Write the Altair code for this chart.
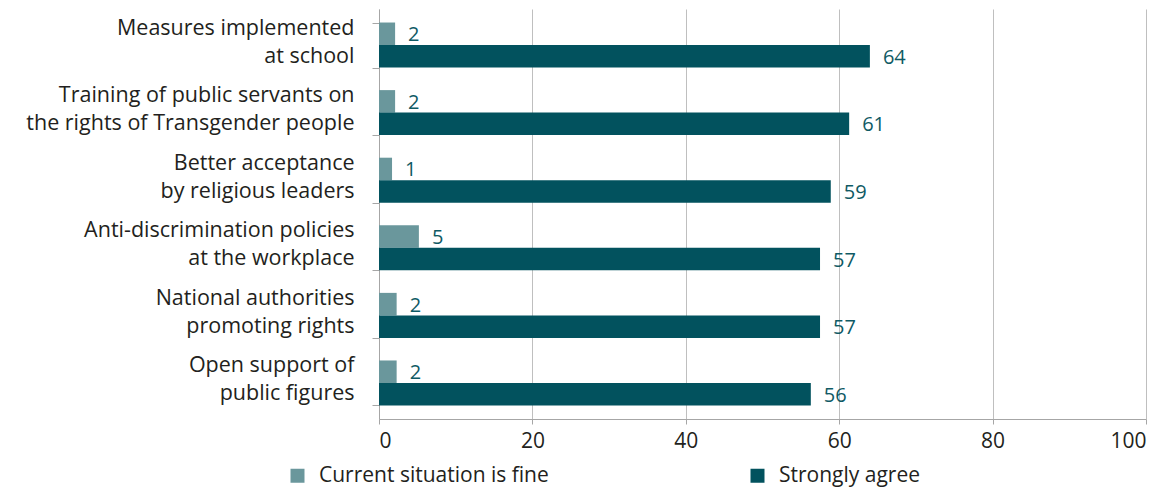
import altair as alt
import pandas as pd

categories = [
    "Measures implemented|at school",
    "Training of public servants on |the rights of Transgender people",
    "Better acceptance|by religious leaders",
    "Anti-discrimination policies|at the workplace",
    "National authorities|promoting rights",
    "Open support of|public figures",
]
series = ["Current situation is fine", "Strongly agree"]
current_fine = [2.1, 2.1, 1.7, 5.2, 2.3, 2.3]
strongly_agree = [64.0, 61.3, 58.9, 57.5, 57.5, 56.3]
current_labels = ["2", "2", "1", "5", "2", "2"]
strongly_labels = ["64", "61", "59", "57", "57", "56"]
x_ticks = [0, 20, 40, 60, 80, 100]

rows = []
for i, c in enumerate(categories):
    rows.append({"cat": c, "series": series[0], "value": current_fine[i], "label": current_labels[i]})
    rows.append({"cat": c, "series": series[1], "value": strongly_agree[i], "label": strongly_labels[i]})
df = pd.DataFrame(rows)

FONT = "Open Sans"
LIGHT = "#6a979c"
DARK = "#02525e"

y_enc = alt.Y("cat:N", sort=categories, title=None,
              scale=alt.Scale(paddingInner=0.334, paddingOuter=0.2),
              axis=alt.Axis(labelExpr="split(datum.label, '|')", labelFontSize=21.5,
                            labelLineHeight=28, labelColor="#231f20", labelFont=FONT,
                            labelPadding=18, labelOffset=-17, tickBand="extent", tickSize=7,
                            tickColor="#a6a6a6", domainColor="#a6a6a6", labelLimit=400))
x_enc = alt.X("value:Q", title=None, scale=alt.Scale(domain=[0, 100], nice=False),
              axis=alt.Axis(values=x_ticks, labelFontSize=21, labelColor="#231f20", labelFont=FONT,
                            grid=True, gridColor="#bfbfbf", domainColor="#a6a6a6",
                            tickColor="#a6a6a6", tickSize=5, labelPadding=6))
yoff = alt.YOffset("series:N", sort=series, scale=alt.Scale(domain=series))

bars = alt.Chart(df).mark_bar().encode(
    y=y_enc, x=x_enc, yOffset=yoff,
    color=alt.Color("series:N", scale=alt.Scale(domain=series, range=[LIGHT, DARK]),
                    legend=alt.Legend(title=None, orient="none", direction="horizontal",
                                      legendX=-92, legendY=456, symbolType="square",
                                      symbolSize=196, symbolStrokeWidth=0,
                                      labelFontSize=21, labelFont=FONT, labelColor="#231f20",
                                      labelLimit=500, columnPadding=198, labelOffset=11)),
)

text = alt.Chart(df).mark_text(align="left", baseline="middle", dx=13, dy=1.5,
                               fontSize=20, font=FONT, color="#0f5a64").encode(
    y=alt.Y("cat:N", sort=categories), x="value:Q", yOffset=yoff, text="label:N"
)

chart = (bars + text).properties(
    width=767, height=410,
    autosize=alt.AutoSizeParams(type="none"),
    padding={"left": 371, "top": 1, "right": 14, "bottom": 70},
).configure_view(stroke=None)

chart.save("out.html", embed_options={"renderer": "svg", "actions": False})
